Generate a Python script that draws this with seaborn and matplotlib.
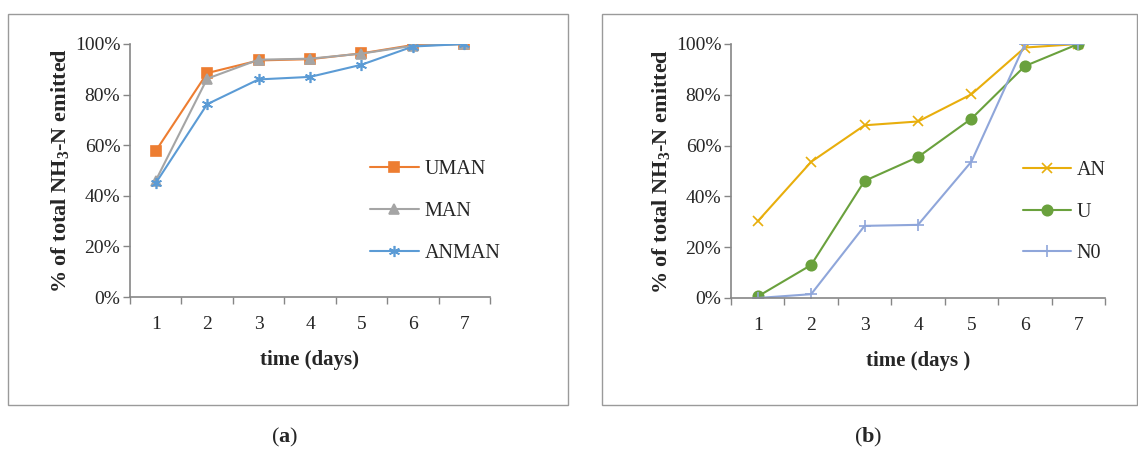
import numpy as np
import pandas as pd
import matplotlib
matplotlib.use("Agg")
import matplotlib.pyplot as plt
import seaborn as sns
from matplotlib.patches import Rectangle
from matplotlib.ticker import PercentFormatter, FixedLocator

# data (cumulative % of total NH3-N)
days = [1, 2, 3, 4, 5, 6, 7]
uman = [57.7, 88.5, 93.5, 94.0, 96.3, 99.6, 100.0]
man = [46.0, 86.3, 93.8, 94.2, 96.2, 99.3, 100.0]
anman = [45.0, 76.2, 86.0, 87.0, 91.8, 99.0, 100.0]

an = [30.2, 53.6, 68.0, 69.5, 80.2, 98.6, 100.0]
u = [0.6, 13.0, 46.1, 55.5, 70.6, 91.3, 100.0]
n0 = [0.0, 1.5, 28.4, 28.8, 53.7, 100.0, 100.0]

sns.set_style("white")
plt.rcParams['font.family'] = ['Liberation Serif', 'DejaVu Serif']
plt.rcParams['mathtext.fontset'] = 'custom'
plt.rcParams['mathtext.rm'] = 'Liberation Serif'
plt.rcParams['mathtext.bf'] = 'Liberation Serif:bold'
plt.rcParams['mathtext.default'] = 'regular'

W, H = 1138, 449
fig = plt.figure(figsize=(W / 100, H / 100), dpi=100)

axis_col = '#868686'


def px_axes(x0, x1, y0, y1):
    return fig.add_axes([x0 / W, 1 - y1 / H, (x1 - x0) / W, (y1 - y0) / H])


def style_axis(ax, xlabel, leg_x):
    ax.set_xlim(0.5, 7.5)
    ax.set_ylim(0, 100)
    ax.set_yticks([0, 20, 40, 60, 80, 100])
    ax.yaxis.set_major_formatter(PercentFormatter(decimals=0))
    ax.set_xticks(days)
    ax.xaxis.set_minor_locator(FixedLocator(np.arange(0.5, 8, 1)))
    ax.tick_params(axis='x', which='major', length=0, pad=14, labelsize=14)
    ax.tick_params(axis='x', which='minor', length=5, color=axis_col, width=1)
    ax.tick_params(axis='y', length=5, color=axis_col, width=1, labelsize=14, pad=2)
    ax.tick_params(left=True, bottom=True, which='both', direction='out')
    for s in ['top', 'right']:
        ax.spines[s].set_visible(False)
    for s in ['left', 'bottom']:
        ax.spines[s].set_color(axis_col)
        ax.spines[s].set_linewidth(1.2)
    ax.set_xlabel(xlabel, fontsize=15, fontweight='bold', labelpad=12)
    ax.set_ylabel('% of total NH$_{3}$-N emitted', fontsize=16,
                  fontweight='bold', labelpad=3)
    ax.grid(False)
    ax.legend(loc='center left', bbox_to_anchor=(leg_x, 0.338), frameon=False,
              fontsize=14.5, handlelength=2.4, labelspacing=1.12,
              handletextpad=0.3)


# panel (a)
ax1 = px_axes(130, 490, 44, 297)
series_a = [('UMAN', uman, '#ED7D31', 's', 7.5),
            ('MAN', man, '#A5A5A5', '^', 7),
            ('ANMAN', anman, '#5B9BD5', (6, 2, 0), 8)]
for name, vals, col, mk, ms in series_a:
    sns.lineplot(x=days, y=vals, ax=ax1, color=col, marker=mk, markersize=ms,
                 markeredgecolor=col, markeredgewidth=1.2, linewidth=1.5,
                 label=name)
style_axis(ax1, 'time (days)', 0.617)

# panel (b)
ax2 = px_axes(731, 1105, 44, 298)
series_b = [('AN', an, '#E8AE0C', 'x', 7),
            ('U', u, '#6AA13D', 'o', 7.5),
            ('N0', n0, '#8FA6DA', '+', 8)]
for name, vals, col, mk, ms in series_b:
    sns.lineplot(x=days, y=vals, ax=ax2, color=col, marker=mk, markersize=ms,
                 markeredgecolor=col, markeredgewidth=1.2, linewidth=1.5,
                 label=name)
style_axis(ax2, 'time (days )', 0.731)

# panel frames
for x0, x1 in [(8, 568), (602, 1137)]:
    fig.patches.append(Rectangle((x0 / W, 1 - 405 / H), (x1 - x0) / W, (405 - 14) / H,
                                 transform=fig.transFigure, fill=False,
                                 edgecolor='#9a9a9a', linewidth=1.0))

fig.text(285 / W, 1 - 437 / H, r'($\mathbf{a}$)', ha='center', va='center',
         fontsize=16)
fig.text(868 / W, 1 - 437 / H, r'($\mathbf{b}$)', ha='center', va='center',
         fontsize=16)

fig.savefig('out.png', dpi=100)
